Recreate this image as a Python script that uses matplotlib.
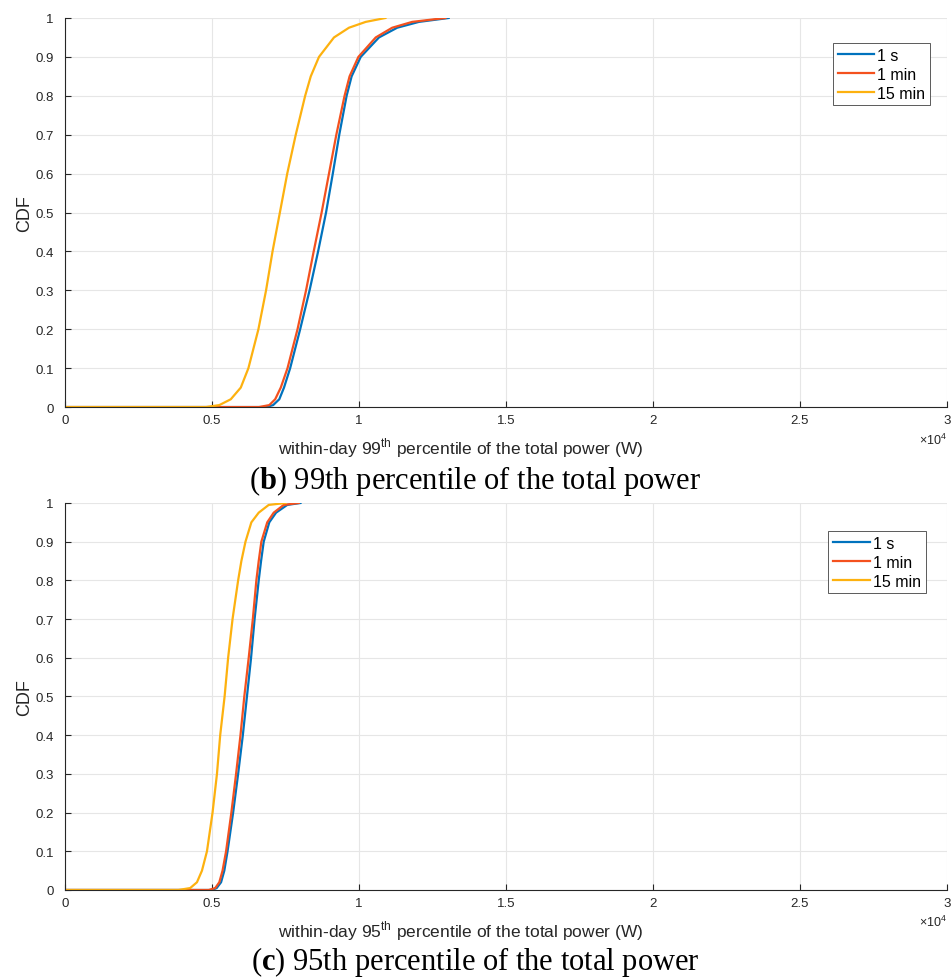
import numpy as np
import matplotlib
matplotlib.use("Agg")
import matplotlib.pyplot as plt

plt.rcParams["font.family"] = ["Liberation Sans Narrow", "Liberation Sans", "DejaVu Sans"]
plt.rcParams["mathtext.fontset"] = "custom"
plt.rcParams["mathtext.rm"] = "Liberation Serif"
plt.rcParams["mathtext.bf"] = "Liberation Serif:bold"

# top panel: within-day 99th percentile (x in units of 1e4 W)
p99_cdf = [0, 0, 0.005, 0.02, 0.05, 0.1, 0.2, 0.3, 0.4, 0.5, 0.6, 0.7, 0.8, 0.85, 0.9, 0.95, 0.975, 0.99, 1.0]
p99_1s = [0, 0.683, 0.708, 0.729, 0.745, 0.766, 0.800, 0.832, 0.861, 0.888, 0.911, 0.933, 0.958, 0.975, 1.006, 1.068, 1.130, 1.204, 1.305]
p99_1min = [0, 0.660, 0.695, 0.715, 0.734, 0.757, 0.791, 0.820, 0.846, 0.873, 0.898, 0.923, 0.951, 0.968, 0.998, 1.057, 1.113, 1.181, 1.294]
p99_15min = [0, 0.480, 0.525, 0.564, 0.598, 0.624, 0.658, 0.684, 0.706, 0.731, 0.756, 0.785, 0.817, 0.836, 0.864, 0.915, 0.966, 1.023, 1.090]

# bottom panel: within-day 95th percentile
p95_cdf = [0, 0, 0.005, 0.02, 0.05, 0.1, 0.2, 0.3, 0.4, 0.5, 0.6, 0.7, 0.8, 0.85, 0.9, 0.95, 0.975, 0.995, 1.0]
p95_1s = [0, 0.500, 0.516, 0.531, 0.542, 0.553, 0.572, 0.589, 0.605, 0.619, 0.633, 0.645, 0.659, 0.667, 0.676, 0.695, 0.718, 0.756, 0.801]
p95_1min = [0, 0.489, 0.511, 0.525, 0.536, 0.548, 0.566, 0.582, 0.597, 0.610, 0.625, 0.639, 0.651, 0.659, 0.668, 0.688, 0.710, 0.744, 0.795]
p95_15min = [0, 0.386, 0.426, 0.449, 0.466, 0.483, 0.502, 0.517, 0.528, 0.543, 0.555, 0.570, 0.589, 0.600, 0.614, 0.634, 0.659, 0.693, 0.750]

labels = ["1 s", "1 min", "15 min"]
colors = ["#0072BD", "#F4511E", "#FDB10F"]
x_ticks = [0, 0.5, 1, 1.5, 2, 2.5, 3]
x_tick_labels = ["0", "0.5", "1", "1.5", "2", "2.5", "3"]

fig = plt.figure(figsize=(9.51, 9.79), dpi=100)
ax_top = fig.add_axes([0.0683, 0.5832, 0.9275, 0.3974])
ax_bot = fig.add_axes([0.0683, 0.0899, 0.9275, 0.3953])

panels = [
    (ax_top, p99_cdf, [p99_1s, p99_1min, p99_15min],
     "within-day 99$^{\\mathregular{th}}$ percentile of the total power (W)", (0.981, 0.936)),
    (ax_bot, p95_cdf, [p95_1s, p95_1min, p95_15min],
     "within-day 95$^{\\mathregular{th}}$ percentile of the total power (W)", (0.976, 0.928)),
]

for ax, cdf, series, xlabel, leg_anchor in panels:
    for xs, lab, col in zip(series, labels, colors):
        ax.plot(xs, cdf, color=col, lw=1.6, label=lab)
    ax.set_xlim(0, 3)
    ax.set_ylim(0, 1)
    ax.set_xticks(x_ticks)
    ax.set_xticklabels(x_tick_labels)
    ax.set_yticks(np.arange(0, 1.01, 0.1))
    ax.set_yticklabels(["0"] + [f"{v:.1f}" for v in np.arange(0.1, 0.95, 0.1)] + ["1"])
    ax.grid(True, color="#e6e6e6", lw=0.8)
    ax.set_axisbelow(True)
    ax.tick_params(direction="in", length=4, color="#262626", labelsize=9.5,
                   labelcolor="#262626")
    ax.tick_params(axis="x", pad=5)
    ax.tick_params(axis="y", pad=8)
    for s in ["top", "right"]:
        ax.spines[s].set_visible(False)
    for s in ["left", "bottom"]:
        ax.spines[s].set_color("#262626")
        ax.spines[s].set_linewidth(0.8)
    ax.set_ylabel("CDF", fontsize=13, color="#262626")
    ax.yaxis.set_label_coords(-0.036, 0.5)
    ax.set_xlabel(xlabel, fontsize=12.5, color="#262626")
    ax.xaxis.set_label_coords(0.449, -0.074)
    ax.text(1.0, -0.082, "×10$^{\\mathregular{4}}$", transform=ax.transAxes, ha="right",
            va="center", fontsize=9, color="#262626")
    leg = ax.legend(loc="upper right", bbox_to_anchor=leg_anchor, borderaxespad=0,
                    fontsize=11.5, handlelength=2.3, handletextpad=0.2, borderpad=0.3,
                    labelspacing=0.25, fancybox=False, framealpha=1)
    leg.get_frame().set_edgecolor("#404040")
    leg.get_frame().set_linewidth(0.6)

cap_font = ["Liberation Serif", "DejaVu Serif"]
fig.text(0.5, 0.509, r"($\mathbf{b}$) 99th percentile of the total power", ha="center",
         va="center", fontsize=22, family=cap_font)
fig.text(0.5, 0.017, r"($\mathbf{c}$) 95th percentile of the total power", ha="center",
         va="center", fontsize=22, family=cap_font)

fig.savefig("out.png", dpi=100)
